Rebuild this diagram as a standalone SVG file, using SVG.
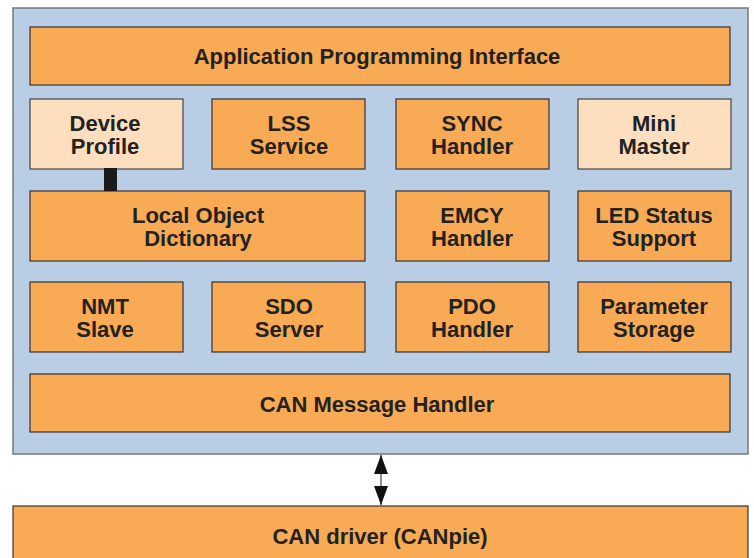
<svg xmlns="http://www.w3.org/2000/svg" width="754" height="558" viewBox="0 0 754 558">
<style>
.o{fill:#f9aa55;stroke:#333;stroke-width:1.2}
.l{fill:#fddfbf;stroke:#444;stroke-width:1.2}
text{font-family:"Liberation Sans",Arial,sans-serif;font-weight:bold;font-size:22px;fill:#222;text-anchor:middle}
</style>
<defs>
<marker id="ah" viewBox="0 0 19 14" refX="19" refY="7" markerWidth="19" markerHeight="14" markerUnits="userSpaceOnUse" orient="auto-start-reverse">
<path d="M0,0 L19,7 L0,14 Z" fill="#111"/>
</marker>
</defs>
<rect id="stack" x="13" y="8" width="735" height="446" fill="#b9cde5" stroke="#777" stroke-width="1.5"/>
<g id="api"><rect class="o" x="30" y="27" width="700" height="58"/><text x="377" y="64">Application Programming Interface</text></g>
<g id="device-profile"><rect class="l" x="30" y="99" width="153" height="70"/><text x="105" y="131">Device</text><text x="105" y="154">Profile</text></g>
<g id="lss"><rect class="o" x="212" y="99" width="153" height="70"/><text x="289" y="131">LSS</text><text x="289" y="154">Service</text></g>
<g id="sync"><rect class="o" x="396" y="99" width="153" height="70"/><text x="472" y="131">SYNC</text><text x="472" y="154">Handler</text></g>
<g id="mini-master"><rect class="l" x="578" y="99" width="153" height="70"/><text x="654" y="131">Mini</text><text x="654" y="154">Master</text></g>
<g id="lod"><rect class="o" x="30" y="191" width="335" height="70"/><text x="198" y="223">Local Object</text><text x="198" y="246">Dictionary</text></g>
<g id="emcy"><rect class="o" x="396" y="191" width="153" height="70"/><text x="472" y="223">EMCY</text><text x="472" y="246">Handler</text></g>
<g id="led"><rect class="o" x="578" y="191" width="153" height="70"/><text x="654" y="223">LED Status</text><text x="654" y="246">Support</text></g>
<g id="nmt"><rect class="o" x="30" y="282" width="153" height="70"/><text x="105" y="314">NMT</text><text x="105" y="337">Slave</text></g>
<g id="sdo"><rect class="o" x="212" y="282" width="153" height="70"/><text x="289" y="314">SDO</text><text x="289" y="337">Server</text></g>
<g id="pdo"><rect class="o" x="396" y="282" width="153" height="70"/><text x="472" y="314">PDO</text><text x="472" y="337">Handler</text></g>
<g id="param"><rect class="o" x="578" y="282" width="153" height="70"/><text x="654" y="314">Parameter</text><text x="654" y="337">Storage</text></g>
<g id="can-msg"><rect class="o" x="30" y="374" width="700" height="58"/><text x="377" y="412">CAN Message Handler</text></g>
<g id="can-driver"><rect class="o" x="13" y="506" width="735" height="60"/><text x="380" y="544">CAN driver (CANpie)</text></g>
<g id="connectors">
<rect x="104" y="168" width="13" height="23" fill="#1a1a1a"/>
<line x1="381" y1="455" x2="381" y2="505" stroke="#666" stroke-width="1.5" marker-start="url(#ah)" marker-end="url(#ah)"/>
</g>
</svg>
